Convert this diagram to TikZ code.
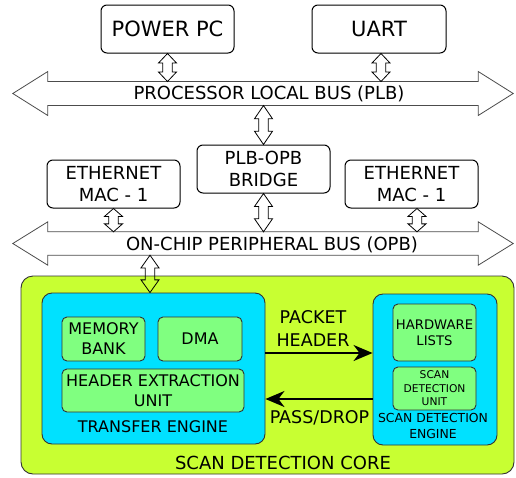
\documentclass[tikz,border=0pt]{standalone}
\usepackage{fontspec}
\setmainfont{DejaVu Sans}
\usetikzlibrary{arrows.meta,calc}
\definecolor{limeg}{RGB}{200,255,50}
\definecolor{cyanb}{RGB}{0,225,255}
\definecolor{lgreen}{RGB}{128,255,128}
\newcommand\fs[2]{\fontsize{#1}{#2}\selectfont}
% hollow vertical double arrow: x from #1, top y from #2, bottom y from #3
\newcommand\hollowarrow[3]{%
  \draw[harrow] let \p1=(#1), \p2=(#2), \p3=(#3), \n1={0.34*(\y2-\y3)} in
    (\x1,\y2) -- (\x1+9pt,{\y2-\n1*1pt}) -- (\x1+4.8pt,{\y2-\n1*1pt})
    -- (\x1+4.8pt,{\y3+\n1*1pt}) -- (\x1+9pt,{\y3+\n1*1pt}) -- (\x1,\y3)
    -- (\x1-9pt,{\y3+\n1*1pt}) -- (\x1-4.8pt,{\y3+\n1*1pt})
    -- (\x1-4.8pt,{\y2-\n1*1pt}) -- (\x1-9pt,{\y2-\n1*1pt}) -- cycle;}
% bus outline around an invisible shaft node
\newcommand\busarrow[1]{%
  \draw[bus] (#1.north west) -- ($(#1.north west)+(0,-10)$) -- ($(#1.west)+(-35,0)$)
    -- ($(#1.south west)+(0,10)$) -- (#1.south west) -- (#1.south east)
    -- ($(#1.south east)+(0,10)$) -- ($(#1.east)+(35,0)$)
    -- ($(#1.north east)+(0,-10)$) -- (#1.north east) -- cycle;}
\begin{document}
\begin{tikzpicture}[x=1pt,y=-1pt,
  box/.style={draw=black, line width=1pt, rounded corners=6pt, fill=white, inner sep=0pt, align=center},
  corebox/.style={draw=black!80, line width=0.9pt, rounded corners=12pt, fill=limeg, inner sep=0pt},
  engbox/.style={draw=black!80, line width=0.9pt, rounded corners=10pt, fill=cyanb, inner sep=0pt},
  unitbox/.style={draw=black!80, line width=0.9pt, rounded corners=5pt, fill=lgreen, inner sep=0pt, align=center},
  shaft/.style={inner sep=0pt, minimum width=430pt},
  bus/.style={draw=black!70, line width=0.8pt, fill=white},
  harrow/.style={draw=black, line width=0.8pt},
  flow/.style={draw=black, line width=2pt, -{Stealth[length=19pt,width=16pt,inset=6pt]}},
  txt/.style={inner sep=0pt, align=center}]
\useasboundingbox (0,0) rectangle (516,477);

% scan detection core
\node[corebox, minimum width=493pt, minimum height=198pt] (core) at (267.5,375) {};
\node[txt, anchor=base, font=\fs{18}{22}] (coretxt) at (283,469.3) {SCAN DETECTION CORE};

% transfer engine
\node[engbox, minimum width=223pt, minimum height=151pt] (te) at (153.5,368.5) {};
\node[unitbox, minimum width=83pt, minimum height=44pt, font=\fs{16}{20}] (mem) at (103.5,339) {MEMORY\\BANK};
\node[unitbox, minimum width=84pt, minimum height=44pt, font=\fs{16}{20}] (dma) at (200,339) {DMA};
\node[unitbox, minimum width=182pt, minimum height=43pt, font=\fs{16}{20}] (heu) at (153,390.5) {HEADER EXTRACTION\\UNIT};
\node[txt, anchor=base, font=\fs{16}{20}] (tetxt) at (153,432.3) {TRANSFER ENGINE};

% scan detection engine
\node[engbox, minimum width=124pt, minimum height=151pt] (sde) at (435,369.5) {};
\node[unitbox, minimum width=83pt, minimum height=57pt, font=\fs{13.2}{16}] (hw) at (434.5,332.5) {HARDWARE\\LISTS};
\node[unitbox, minimum width=83pt, minimum height=43pt, font=\fs{10.7}{13.5}] (sdu) at (434.5,388.5) {SCAN\\DETECTION\\UNIT};
\node[txt, font=\fs{12.4}{15.6}] (sdetxt) at (433,426) {SCAN DETECTION\\ENGINE};

% flows between engines
\draw[flow] ([yshift=15.5pt]te.east) -- ([yshift=15.5pt]te.east -| sde.west);
\draw[flow] ([yshift=-30.5pt]te.east -| sde.west) -- ([yshift=-30.5pt]te.east);
\node[txt, font=\fs{17.5}{22.7}] (phtxt) at (313,328.3) {PACKET\\HEADER};
\node[txt, anchor=base, font=\fs{17.5}{22.7}] (pdtxt) at (319.5,423.3) {PASS/DROP};

% buses
\node[shaft, minimum height=23.6pt] (plb) at (263,93.5) {};
\busarrow{plb}
\node[txt, anchor=base, font=\fs{18}{22}] (plbtxt) at (269,99.3) {PROCESSOR LOCAL BUS (PLB)};
\node[shaft, minimum height=23pt] (opb) at (263,243.5) {};
\busarrow{opb}
\node[txt, anchor=base, font=\fs{18}{22}] (opbtxt) at (272,250) {ON-CHIP PERIPHERAL BUS (OPB)};

% blocks
\node[box, minimum width=133pt, minimum height=48pt, font=\fs{21}{25}] (pc) at (167.5,29) {POWER PC};
\node[box, minimum width=134pt, minimum height=48pt, font=\fs{21}{25}] (uart) at (379,29) {UART};
\node[box, minimum width=133pt, minimum height=48pt, font=\fs{18}{22.4}] (bridge) at (263.5,169) {PLB-OPB\\BRIDGE};
\node[box, minimum width=133pt, minimum height=48pt, font=\fs{18}{22.4}] (ethL) at (113.5,184) {ETHERNET\\MAC - 1};
\node[box, minimum width=133pt, minimum height=48pt, font=\fs{18}{22.4}] (ethR) at (411.5,184) {ETHERNET\\MAC - 1};

% bus connections
\coordinate (uartA) at ($(uart.south)+(2,0)$);
\coordinate (ethRA) at ($(ethR.south)+(5.5,0)$);
\coordinate (coreA) at ($(te.north)+(-3.5,0)$);
\hollowarrow{pc.south}{pc.south}{plb.north}
\hollowarrow{uartA}{uart.south}{plb.north}
\hollowarrow{bridge.north}{plb.south}{bridge.north}
\hollowarrow{ethL.south}{ethL.south}{opb.north}
\hollowarrow{bridge.south}{bridge.south}{opb.north}
\hollowarrow{ethRA}{ethR.south}{opb.north}
\hollowarrow{coreA}{opb.south}{te.north}
\end{tikzpicture}
\end{document}
